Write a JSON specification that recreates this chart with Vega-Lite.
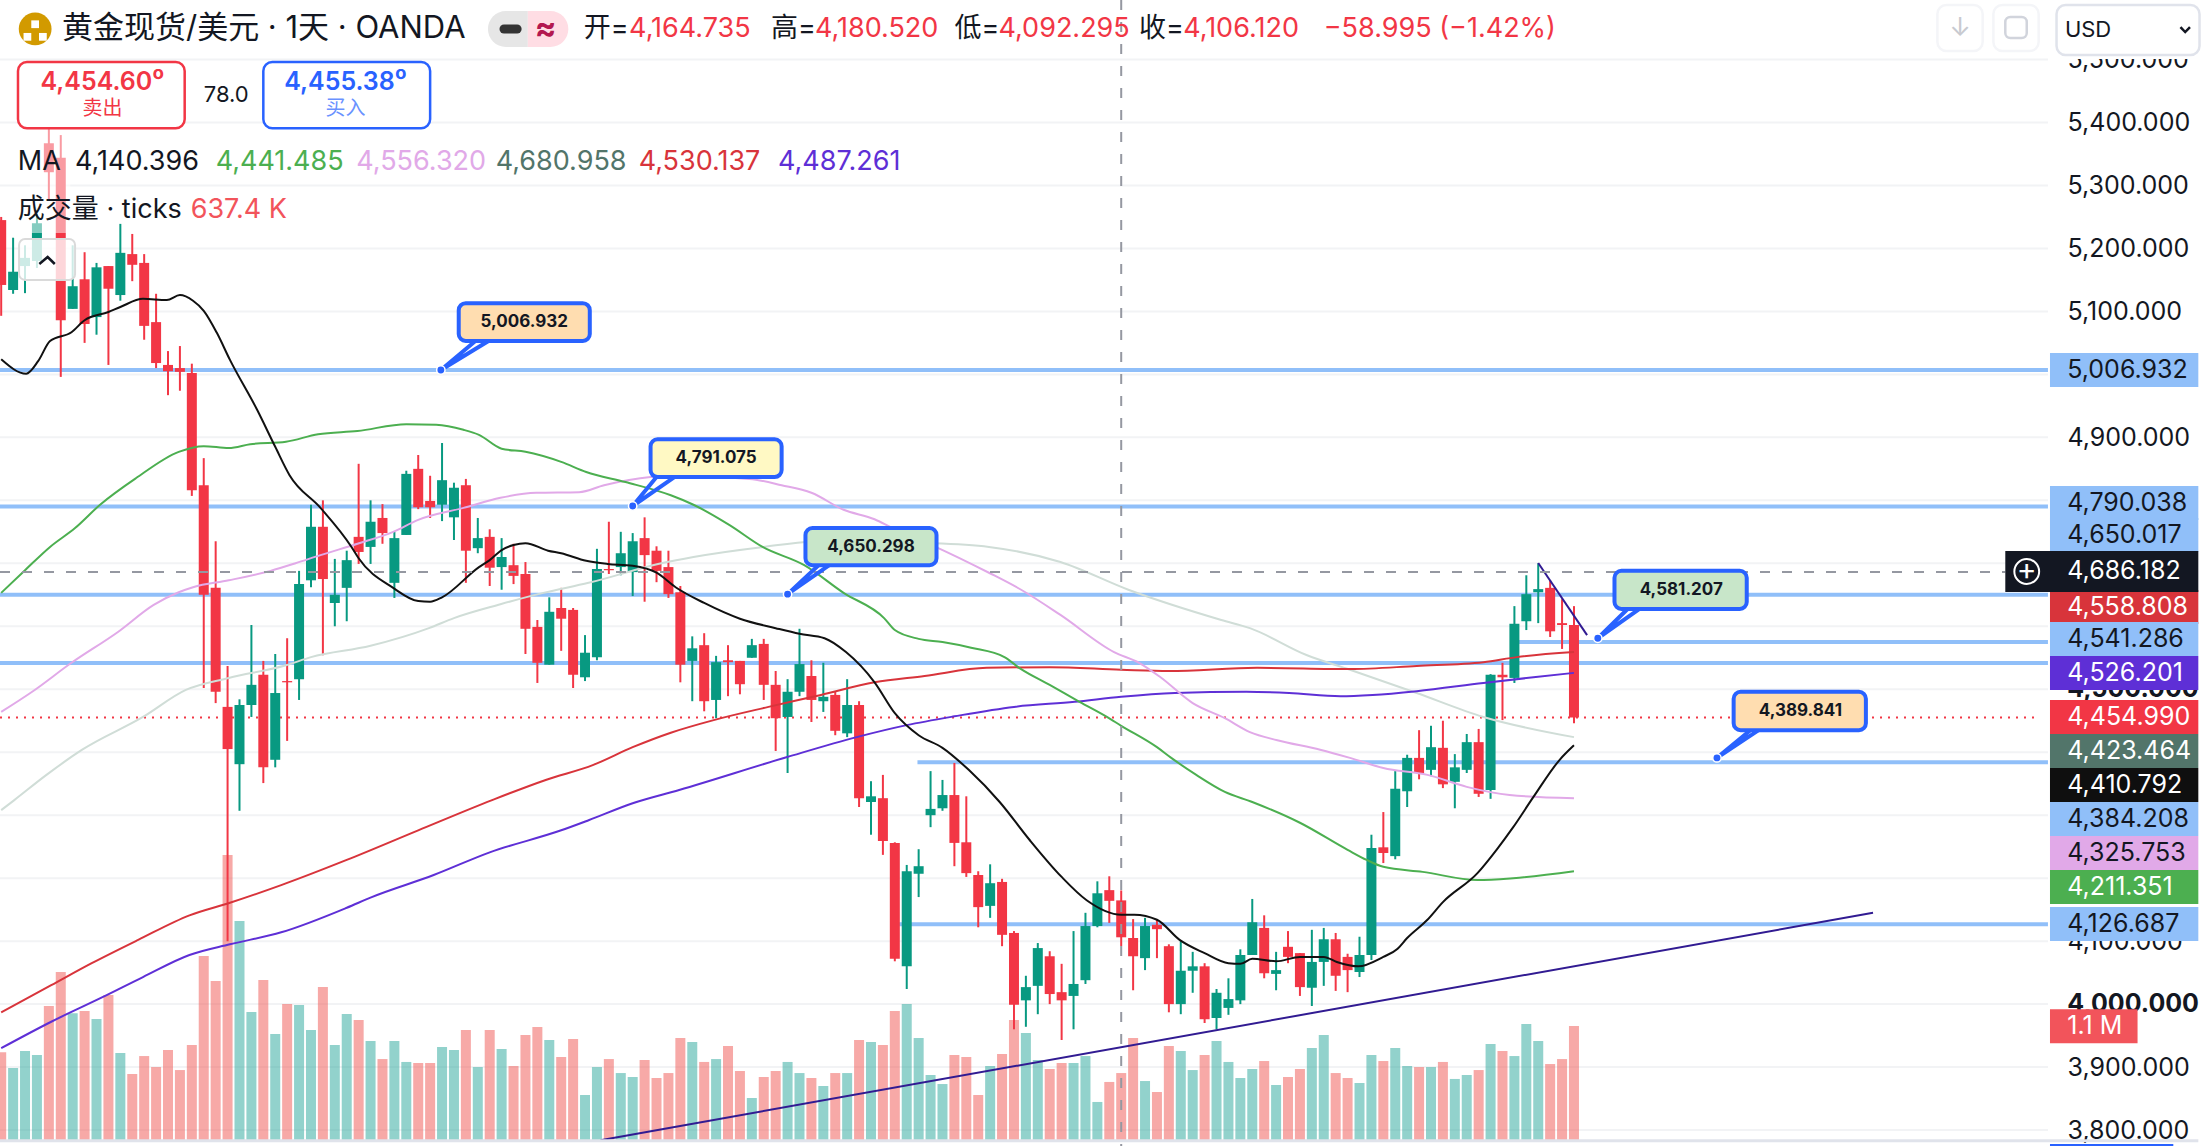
{
"$schema":"https://vega.github.io/schema/vega-lite/v6.json",
"description":"黄金现货/美元 1天 candlestick chart with moving averages and volume",
"width":2210,"height":1146,"padding":0,"autosize":{"type":"none"},"background":"#FFFFFF",
"datasets":{
"ticks":[{"price":3800,"a":-0.1,"b":171.78},{"price":3900,"a":-0.1,"b":171.78},{"price":4000,"a":-0.1,"b":171.78},{"price":4100,"a":-0.1,"b":171.78},{"price":4200,"a":-0.1,"b":171.78},{"price":4300,"a":-0.1,"b":171.78},{"price":4400,"a":-0.1,"b":171.78},{"price":4500,"a":-0.1,"b":171.78},{"price":4600,"a":-0.1,"b":171.78},{"price":4700,"a":-0.1,"b":171.78},{"price":4800,"a":-0.1,"b":171.78},{"price":4900,"a":-0.1,"b":171.78},{"price":5000,"a":-0.1,"b":171.78},{"price":5100,"a":-0.1,"b":171.78},{"price":5200,"a":-0.1,"b":171.78},{"price":5300,"a":-0.1,"b":171.78},{"price":5400,"a":-0.1,"b":171.78},{"price":5500,"a":-0.1,"b":171.78}],
"bars":[
{"i":0,"h":5250,"o":5245,"c":5142,"l":5093,"v":0.846},{"i":1,"h":5217,"o":5134,"c":5163,"l":5128,"v":0.695},{"i":2,"h":5205,"o":5172,"c":5185,"l":5129,"v":0.859},{"i":3,"h":5255,"o":5180,"c":5240,"l":5169,"v":0.82},{"i":4,"h":5390,"o":5367,"c":5321,"l":5277,"v":1.293},{"i":5,"h":5380,"o":5344,"c":5086,"l":4996,"v":1.621},{"i":6,"h":5205,"o":5104,"c":5140,"l":5104,"v":1.222},{"i":7,"h":5194,"o":5151,"c":5080,"l":5050,"v":1.245},{"i":8,"h":5177,"o":5091,"c":5170,"l":5063,"v":1.167},{"i":9,"h":5172,"o":5172,"c":5136,"l":5015,"v":1.399},
{"i":10,"h":5239,"o":5126,"c":5193,"l":5117,"v":0.839},{"i":11,"h":5223,"o":5191,"c":5174,"l":5148,"v":0.637},{"i":12,"h":5191,"o":5177,"c":5077,"l":5055,"v":0.81},{"i":13,"h":5128,"o":5083,"c":5018,"l":5010,"v":0.704},{"i":14,"h":5037,"o":5015,"c":5005,"l":4967,"v":0.868},{"i":15,"h":5045,"o":5010,"c":5004,"l":4974,"v":0.675},{"i":16,"h":5017,"o":5002,"c":4816,"l":4807,"v":0.917},{"i":17,"h":4867,"o":4824,"c":4650,"l":4502,"v":1.775},{"i":18,"h":4735,"o":4661,"c":4496,"l":4478,"v":1.534},{"i":19,"h":4537,"o":4472,"c":4405,"l":4100,"v":2.75},
{"i":20,"h":4484,"o":4381,"c":4475,"l":4307,"v":2.113},{"i":21,"h":4602,"o":4475,"c":4507,"l":4456,"v":1.235},{"i":22,"h":4545,"o":4523,"c":4376,"l":4351,"v":1.544},{"i":23,"h":4556,"o":4388,"c":4494,"l":4376,"v":1.023},{"i":24,"h":4581,"o":4513,"c":4511,"l":4418,"v":1.312},{"i":25,"h":4688,"o":4516,"c":4667,"l":4483,"v":1.302},{"i":26,"h":4793,"o":4673,"c":4758,"l":4662,"v":1.061},{"i":27,"h":4800,"o":4758,"c":4675,"l":4554,"v":1.476},{"i":28,"h":4707,"o":4637,"c":4650,"l":4600,"v":0.917},{"i":29,"h":4720,"o":4661,"c":4705,"l":4608,"v":1.216},
{"i":30,"h":4858,"o":4742,"c":4718,"l":4699,"v":1.158},{"i":31,"h":4800,"o":4726,"c":4766,"l":4699,"v":0.955},{"i":32,"h":4794,"o":4772,"c":4748,"l":4731,"v":0.781},{"i":33,"h":4750,"o":4669,"c":4740,"l":4645,"v":0.955},{"i":34,"h":4847,"o":4745,"c":4842,"l":4745,"v":0.753},{"i":35,"h":4872,"o":4850,"c":4789,"l":4786,"v":0.743},{"i":36,"h":4839,"o":4799,"c":4789,"l":4772,"v":0.743},{"i":37,"h":4891,"o":4793,"c":4832,"l":4767,"v":0.897},{"i":38,"h":4828,"o":4773,"c":4820,"l":4737,"v":0.868},{"i":39,"h":4834,"o":4824,"c":4720,"l":4669,"v":1.061},
{"i":40,"h":4772,"o":4724,"c":4740,"l":4716,"v":0.704},{"i":41,"h":4754,"o":4742,"c":4693,"l":4664,"v":1.061},{"i":42,"h":4740,"o":4694,"c":4710,"l":4658,"v":0.878},{"i":43,"h":4731,"o":4697,"c":4680,"l":4667,"v":0.714},{"i":44,"h":4702,"o":4683,"c":4596,"l":4556,"v":1.013},{"i":45,"h":4610,"o":4599,"c":4542,"l":4510,"v":1.09},{"i":46,"h":4646,"o":4539,"c":4623,"l":4539,"v":0.965},{"i":47,"h":4661,"o":4629,"c":4612,"l":4561,"v":0.801},{"i":48,"h":4629,"o":4626,"c":4523,"l":4502,"v":0.974},{"i":49,"h":4586,"o":4519,"c":4558,"l":4513,"v":0.434},
{"i":50,"h":4723,"o":4551,"c":4691,"l":4546,"v":0.704},{"i":51,"h":4766,"o":4691,"c":4689,"l":4683,"v":0.781},{"i":52,"h":4750,"o":4694,"c":4716,"l":4681,"v":0.646},{"i":53,"h":4748,"o":4686,"c":4735,"l":4648,"v":0.608},{"i":54,"h":4773,"o":4740,"c":4713,"l":4639,"v":0.772},{"i":55,"h":4727,"o":4720,"c":4688,"l":4670,"v":0.598},{"i":56,"h":4720,"o":4694,"c":4651,"l":4645,"v":0.646},{"i":57,"h":4664,"o":4654,"c":4539,"l":4511,"v":0.984},{"i":58,"h":4584,"o":4545,"c":4565,"l":4481,"v":0.946},{"i":59,"h":4589,"o":4570,"c":4481,"l":4465,"v":0.753},
{"i":60,"h":4553,"o":4483,"c":4543,"l":4454,"v":0.781},{"i":61,"h":4570,"o":4546,"c":4543,"l":4489,"v":0.907},{"i":62,"h":4545,"o":4545,"c":4508,"l":4492,"v":0.666},{"i":63,"h":4580,"o":4550,"c":4570,"l":4550,"v":0.405},{"i":64,"h":4580,"o":4572,"c":4507,"l":4483,"v":0.608},{"i":65,"h":4529,"o":4507,"c":4454,"l":4402,"v":0.666},{"i":66,"h":4516,"o":4456,"c":4496,"l":4367,"v":0.753},{"i":67,"h":4596,"o":4496,"c":4540,"l":4489,"v":0.646},{"i":68,"h":4546,"o":4521,"c":4483,"l":4448,"v":0.598},{"i":69,"h":4542,"o":4481,"c":4488,"l":4464,"v":0.521},
{"i":70,"h":4497,"o":4491,"c":4434,"l":4427,"v":0.646},{"i":71,"h":4516,"o":4430,"c":4475,"l":4424,"v":0.646},{"i":72,"h":4481,"o":4475,"c":4327,"l":4313,"v":0.965},{"i":73,"h":4354,"o":4321,"c":4330,"l":4269,"v":0.946},{"i":74,"h":4364,"o":4327,"c":4259,"l":4237,"v":0.917},{"i":75,"h":4257,"o":4256,"c":4072,"l":4068,"v":1.245},{"i":76,"h":4221,"o":4060,"c":4211,"l":4024,"v":1.312},{"i":77,"h":4246,"o":4207,"c":4219,"l":4170,"v":0.984},{"i":78,"h":4370,"o":4300,"c":4310,"l":4281,"v":0.627},{"i":79,"h":4356,"o":4311,"c":4332,"l":4307,"v":0.54},
{"i":80,"h":4383,"o":4332,"c":4256,"l":4219,"v":0.82},{"i":81,"h":4330,"o":4257,"c":4208,"l":4202,"v":0.801},{"i":82,"h":4211,"o":4205,"c":4154,"l":4122,"v":0.434},{"i":83,"h":4222,"o":4156,"c":4192,"l":4137,"v":0.714},{"i":84,"h":4199,"o":4194,"c":4110,"l":4092,"v":0.83},{"i":85,"h":4116,"o":4113,"c":3999,"l":3960,"v":1.158},{"i":86,"h":4045,"o":4006,"c":4027,"l":3964,"v":1.032},{"i":87,"h":4097,"o":4029,"c":4089,"l":3984,"v":0.772},{"i":88,"h":4084,"o":4076,"c":4016,"l":4000,"v":0.685},{"i":89,"h":4064,"o":4019,"c":4006,"l":3943,"v":0.743},
{"i":90,"h":4116,"o":4013,"c":4032,"l":3960,"v":0.743},{"i":91,"h":4145,"o":4038,"c":4124,"l":4032,"v":0.81},{"i":92,"h":4195,"o":4124,"c":4176,"l":4122,"v":0.367},{"i":93,"h":4203,"o":4181,"c":4164,"l":4129,"v":0.56},{"i":94,"h":4180.52,"o":4164.735,"c":4106.12,"l":4092.295,"v":0.646},{"i":95,"h":4135,"o":4105,"c":4076,"l":4022,"v":0.984},{"i":96,"h":4137,"o":4073,"c":4124,"l":4054,"v":0.569},{"i":97,"h":4135,"o":4126,"c":4119,"l":4073,"v":0.463},{"i":98,"h":4095,"o":4092,"c":4000,"l":3987,"v":0.907},{"i":99,"h":4100,"o":4000,"c":4053,"l":3984,"v":0.859},
{"i":100,"h":4083,"o":4053,"c":4060,"l":4018,"v":0.675},{"i":101,"h":4065,"o":4060,"c":3976,"l":3970,"v":0.82},{"i":102,"h":4024,"o":3978,"c":4018,"l":3960,"v":0.955},{"i":103,"h":4041,"o":3994,"c":4008,"l":3983,"v":0.753},{"i":104,"h":4087,"o":4006,"c":4078,"l":4000,"v":0.598},{"i":105,"h":4167,"o":4078,"c":4130,"l":4078,"v":0.685},{"i":106,"h":4141,"o":4121,"c":4049,"l":4041,"v":0.762},{"i":107,"h":4083,"o":4048,"c":4054,"l":4022,"v":0.531},{"i":108,"h":4116,"o":4091,"c":4075,"l":4065,"v":0.608},{"i":109,"h":4081,"o":4081,"c":4027,"l":4013,"v":0.685},
{"i":110,"h":4118,"o":4026,"c":4067,"l":3997,"v":0.888},{"i":111,"h":4121,"o":4067,"c":4103,"l":4029,"v":1.013},{"i":112,"h":4113,"o":4103,"c":4045,"l":4021,"v":0.646},{"i":113,"h":4080,"o":4075,"c":4054,"l":4019,"v":0.598},{"i":114,"h":4107,"o":4051,"c":4078,"l":4043,"v":0.55},{"i":115,"h":4269,"o":4078,"c":4248,"l":4070,"v":0.82},{"i":116,"h":4305,"o":4249,"c":4240,"l":4224,"v":0.762},{"i":117,"h":4370,"o":4235,"c":4342,"l":4230,"v":0.888},{"i":118,"h":4396,"o":4338,"c":4391,"l":4313,"v":0.714},{"i":119,"h":4435,"o":4391,"c":4367,"l":4357,"v":0.704},
{"i":120,"h":4442,"o":4372,"c":4408,"l":4362,"v":0.704},{"i":121,"h":4450,"o":4407,"c":4349,"l":4343,"v":0.753},{"i":122,"h":4397,"o":4353,"c":4376,"l":4311,"v":0.589},{"i":123,"h":4429,"o":4372,"c":4416,"l":4367,"v":0.627},{"i":124,"h":4437,"o":4416,"c":4334,"l":4329,"v":0.675},{"i":125,"h":4524,"o":4340,"c":4523,"l":4326,"v":0.926},{"i":126,"h":4542,"o":4523,"c":4519,"l":4451,"v":0.859},{"i":127,"h":4632,"o":4518,"c":4604,"l":4510,"v":0.81},{"i":128,"h":4681,"o":4608,"c":4651,"l":4594,"v":1.119},{"i":129,"h":4700,"o":4654,"c":4659,"l":4605,"v":0.955},
{"i":130,"h":4673,"o":4661,"c":4592,"l":4583,"v":0.733},{"i":131,"h":4643,"o":4605,"c":4602,"l":4564,"v":0.781},{"i":132,"h":4632,"o":4602,"c":4454.99,"l":4446,"v":1.1}
],
"ma":[
{"s":"ma4","i":0,"p":4308},{"s":"ma4","i":1.1,"p":4324},{"s":"ma4","i":3.8,"p":4364},{"s":"ma4","i":6.8,"p":4404},{"s":"ma4","i":11.9,"p":4456},{"s":"ma4","i":15.5,"p":4499},{"s":"ma4","i":19.1,"p":4518},{"s":"ma4","i":23.9,"p":4538},{"s":"ma4","i":26,"p":4551},{"s":"ma4","i":31,"p":4569},{"s":"ma4","i":35.9,"p":4597},{"s":"ma4","i":38,"p":4613},{"s":"ma4","i":41.9,"p":4635},{"s":"ma4","i":45.5,"p":4653},{"s":"ma4","i":49.3,"p":4669},{"s":"ma4","i":55.4,"p":4700},{"s":"ma4","i":58.1,"p":4710},{"s":"ma4","i":64,"p":4726},{"s":"ma4","i":68.8,"p":4735},{"s":"ma4","i":77.9,"p":4732},{"s":"ma4","i":82.9,"p":4726},{"s":"ma4","i":88.9,"p":4702},{"s":"ma4","i":94.6,"p":4658},{"s":"ma4","i":102.4,"p":4610},{"s":"ma4","i":104.8,"p":4597},{"s":"ma4","i":109.6,"p":4554},{"s":"ma4","i":113.2,"p":4531},{"s":"ma4","i":118.8,"p":4494},{"s":"ma4","i":124.4,"p":4456},{"s":"ma4","i":132,"p":4424},
{"s":"ma6","i":0,"p":3930},{"s":"ma6","i":4.2,"p":3972},{"s":"ma6","i":8.5,"p":4011},{"s":"ma6","i":11.9,"p":4043},{"s":"ma6","i":15.8,"p":4078},{"s":"ma6","i":19.2,"p":4095},{"s":"ma6","i":23.5,"p":4114},{"s":"ma6","i":29,"p":4153},{"s":"ma6","i":31.1,"p":4170},{"s":"ma6","i":36.3,"p":4205},{"s":"ma6","i":41,"p":4241},{"s":"ma6","i":47,"p":4276},{"s":"ma6","i":49.3,"p":4292},{"s":"ma6","i":53,"p":4319},{"s":"ma6","i":56.9,"p":4340},{"s":"ma6","i":65.9,"p":4392},{"s":"ma6","i":71.8,"p":4424},{"s":"ma6","i":76,"p":4443},{"s":"ma6","i":80,"p":4457},{"s":"ma6","i":85,"p":4472},{"s":"ma6","i":90.1,"p":4480},{"s":"ma6","i":94,"p":4488},{"s":"ma6","i":98.5,"p":4494},{"s":"ma6","i":104.5,"p":4496},{"s":"ma6","i":108.1,"p":4494},{"s":"ma6","i":112.4,"p":4489},{"s":"ma6","i":115.1,"p":4491},{"s":"ma6","i":118.8,"p":4497},{"s":"ma6","i":124.4,"p":4510},{"s":"ma6","i":128.6,"p":4519},{"s":"ma6","i":132,"p":4526},
{"s":"ma5","i":0,"p":3987},{"s":"ma5","i":4.2,"p":4030},{"s":"ma5","i":7.6,"p":4065},{"s":"ma5","i":11.5,"p":4102},{"s":"ma5","i":15.8,"p":4141},{"s":"ma5","i":19.2,"p":4161},{"s":"ma5","i":23.5,"p":4189},{"s":"ma5","i":29,"p":4229},{"s":"ma5","i":35,"p":4276},{"s":"ma5","i":41.2,"p":4324},{"s":"ma5","i":45.7,"p":4356},{"s":"ma5","i":49.7,"p":4380},{"s":"ma5","i":53,"p":4408},{"s":"ma5","i":56.2,"p":4431},{"s":"ma5","i":59.8,"p":4451},{"s":"ma5","i":64.4,"p":4472},{"s":"ma5","i":68.8,"p":4491},{"s":"ma5","i":73.3,"p":4511},{"s":"ma5","i":77.5,"p":4521},{"s":"ma5","i":82.7,"p":4534},{"s":"ma5","i":88,"p":4535},{"s":"ma5","i":94,"p":4531},{"s":"ma5","i":98,"p":4529},{"s":"ma5","i":105.4,"p":4534},{"s":"ma5","i":113.2,"p":4532},{"s":"ma5","i":118.8,"p":4537},{"s":"ma5","i":124.4,"p":4543},{"s":"ma5","i":127.2,"p":4551},{"s":"ma5","i":132,"p":4559},
{"s":"ma3","i":0,"p":4464},{"s":"ma3","i":2.6,"p":4496},{"s":"ma3","i":5.9,"p":4542},{"s":"ma3","i":9.8,"p":4591},{"s":"ma3","i":12.8,"p":4634},{"s":"ma3","i":14.9,"p":4654},{"s":"ma3","i":16.1,"p":4662},{"s":"ma3","i":19.1,"p":4673},{"s":"ma3","i":22.6,"p":4688},{"s":"ma3","i":24.7,"p":4700},{"s":"ma3","i":26.8,"p":4713},{"s":"ma3","i":29.9,"p":4731},{"s":"ma3","i":32.9,"p":4750},{"s":"ma3","i":35,"p":4769},{"s":"ma3","i":38.8,"p":4788},{"s":"ma3","i":41.9,"p":4804},{"s":"ma3","i":44.9,"p":4812},{"s":"ma3","i":48.5,"p":4813},{"s":"ma3","i":50.6,"p":4824},{"s":"ma3","i":54.5,"p":4837},{"s":"ma3","i":56.9,"p":4839},{"s":"ma3","i":62.8,"p":4834},{"s":"ma3","i":65.5,"p":4824},{"s":"ma3","i":68,"p":4812},{"s":"ma3","i":70.7,"p":4785},{"s":"ma3","i":73.3,"p":4770},{"s":"ma3","i":74.8,"p":4756},{"s":"ma3","i":78.1,"p":4729},{"s":"ma3","i":82.9,"p":4685},{"s":"ma3","i":85.6,"p":4658},{"s":"ma3","i":88.9,"p":4618},{"s":"ma3","i":93.4,"p":4559},{"s":"ma3","i":95.5,"p":4542},{"s":"ma3","i":97.3,"p":4519},{"s":"ma3","i":100,"p":4478},{"s":"ma3","i":102.7,"p":4454},{"s":"ma3","i":104.8,"p":4432},{"s":"ma3","i":107.1,"p":4419},{"s":"ma3","i":110.7,"p":4404},{"s":"ma3","i":113.2,"p":4391},{"s":"ma3","i":116,"p":4375},{"s":"ma3","i":119.7,"p":4364},{"s":"ma3","i":123,"p":4345},{"s":"ma3","i":126.6,"p":4332},{"s":"ma3","i":132,"p":4327},
{"s":"ma2","i":0,"p":4653},{"s":"ma2","i":2,"p":4689},{"s":"ma2","i":4.1,"p":4726},{"s":"ma2","i":6.2,"p":4756},{"s":"ma2","i":8.3,"p":4793},{"s":"ma2","i":11.3,"p":4835},{"s":"ma2","i":14.9,"p":4877},{"s":"ma2","i":17,"p":4886},{"s":"ma2","i":19.1,"p":4883},{"s":"ma2","i":20.9,"p":4889},{"s":"ma2","i":23.9,"p":4893},{"s":"ma2","i":26.6,"p":4905},{"s":"ma2","i":29.9,"p":4910},{"s":"ma2","i":34,"p":4921},{"s":"ma2","i":36.5,"p":4920},{"s":"ma2","i":38.8,"p":4912},{"s":"ma2","i":40.1,"p":4904},{"s":"ma2","i":42,"p":4882},{"s":"ma2","i":44,"p":4877},{"s":"ma2","i":47,"p":4861},{"s":"ma2","i":49.1,"p":4845},{"s":"ma2","i":52.4,"p":4829},{"s":"ma2","i":56.2,"p":4808},{"s":"ma2","i":58.1,"p":4793},{"s":"ma2","i":61.1,"p":4761},{"s":"ma2","i":63.9,"p":4726},{"s":"ma2","i":67.4,"p":4697},{"s":"ma2","i":70.7,"p":4653},{"s":"ma2","i":74.1,"p":4613},{"s":"ma2","i":75,"p":4594},{"s":"ma2","i":77,"p":4580},{"s":"ma2","i":79,"p":4575},{"s":"ma2","i":81.4,"p":4566},{"s":"ma2","i":84.2,"p":4551},{"s":"ma2","i":85.6,"p":4532},{"s":"ma2","i":88,"p":4507},{"s":"ma2","i":90.5,"p":4480},{"s":"ma2","i":92.8,"p":4456},{"s":"ma2","i":94,"p":4442},{"s":"ma2","i":97,"p":4408},{"s":"ma2","i":98.2,"p":4391},{"s":"ma2","i":100.3,"p":4364},{"s":"ma2","i":102.7,"p":4337},{"s":"ma2","i":105,"p":4321},{"s":"ma2","i":109,"p":4288},{"s":"ma2","i":113,"p":4245},{"s":"ma2","i":114.6,"p":4229},{"s":"ma2","i":116,"p":4218},{"s":"ma2","i":119.3,"p":4210},{"s":"ma2","i":123.9,"p":4197},{"s":"ma2","i":126.9,"p":4200},{"s":"ma2","i":132,"p":4211},
{"s":"ma1","i":0,"p":5024},{"s":"ma1","i":2.1,"p":5001},{"s":"ma1","i":3.1,"p":5021},{"s":"ma1","i":4.1,"p":5053},{"s":"ma1","i":5.9,"p":5067},{"s":"ma1","i":7,"p":5086},{"s":"ma1","i":9,"p":5099},{"s":"ma1","i":10,"p":5107},{"s":"ma1","i":11.9,"p":5120},{"s":"ma1","i":13.9,"p":5118},{"s":"ma1","i":15,"p":5126},{"s":"ma1","i":16.1,"p":5117},{"s":"ma1","i":17,"p":5101},{"s":"ma1","i":18.1,"p":5066},{"s":"ma1","i":19.2,"p":5023},{"s":"ma1","i":21.5,"p":4943},{"s":"ma1","i":23,"p":4885},{"s":"ma1","i":24.2,"p":4840},{"s":"ma1","i":26.8,"p":4788},{"s":"ma1","i":29.4,"p":4726},{"s":"ma1","i":30,"p":4708},{"s":"ma1","i":32.9,"p":4661},{"s":"ma1","i":35,"p":4640},{"s":"ma1","i":36,"p":4639},{"s":"ma1","i":37,"p":4646},{"s":"ma1","i":40.1,"p":4694},{"s":"ma1","i":41,"p":4705},{"s":"ma1","i":42,"p":4721},{"s":"ma1","i":43,"p":4729},{"s":"ma1","i":44,"p":4732},{"s":"ma1","i":45.9,"p":4720},{"s":"ma1","i":47,"p":4716},{"s":"ma1","i":49.1,"p":4704},{"s":"ma1","i":50.9,"p":4699},{"s":"ma1","i":53,"p":4696},{"s":"ma1","i":55,"p":4685},{"s":"ma1","i":56.6,"p":4662},{"s":"ma1","i":59,"p":4637},{"s":"ma1","i":62,"p":4612},{"s":"ma1","i":65,"p":4597},{"s":"ma1","i":67,"p":4588},{"s":"ma1","i":69.1,"p":4581},{"s":"ma1","i":70.9,"p":4559},{"s":"ma1","i":73.3,"p":4511},{"s":"ma1","i":75,"p":4462},{"s":"ma1","i":77,"p":4427},{"s":"ma1","i":79,"p":4407},{"s":"ma1","i":81.2,"p":4372},{"s":"ma1","i":83.8,"p":4321},{"s":"ma1","i":86.3,"p":4261},{"s":"ma1","i":89,"p":4202},{"s":"ma1","i":91.1,"p":4165},{"s":"ma1","i":94,"p":4142},{"s":"ma1","i":95.1,"p":4142},{"s":"ma1","i":97,"p":4134},{"s":"ma1","i":98.9,"p":4102},{"s":"ma1","i":101,"p":4081},{"s":"ma1","i":103,"p":4065},{"s":"ma1","i":104,"p":4064},{"s":"ma1","i":105,"p":4072},{"s":"ma1","i":107,"p":4068},{"s":"ma1","i":109,"p":4075},{"s":"ma1","i":111,"p":4075},{"s":"ma1","i":112.1,"p":4067},{"s":"ma1","i":113.9,"p":4060},{"s":"ma1","i":116,"p":4075},{"s":"ma1","i":117.2,"p":4088},{"s":"ma1","i":118,"p":4105},{"s":"ma1","i":119.7,"p":4134},{"s":"ma1","i":121,"p":4162},{"s":"ma1","i":123.9,"p":4208},{"s":"ma1","i":125.5,"p":4245},{"s":"ma1","i":126.9,"p":4281},{"s":"ma1","i":128.6,"p":4329},{"s":"ma1","i":130.8,"p":4388},{"s":"ma1","i":132,"p":4411}
],
"levels":[{"p":5006.932,"a":-0.1,"b":171.78},{"p":4790.038,"a":-0.1,"b":171.78},{"p":4650.017,"a":-0.1,"b":171.78},{"p":4575,"a":127.3,"b":171.78},{"p":4541.7,"a":-0.1,"b":171.78},{"p":4384.208,"a":76.9,"b":171.78},{"p":4126.687,"a":75,"b":171.78}],
"trend":[{"k":"a","n":1,"i":50.3,"p":3784},{"k":"a","n":2,"i":157.1,"p":4145},{"k":"b","n":1,"i":129,"p":4700.5},{"k":"b","n":2,"i":133.1,"p":4586}],
"callouts":[
{"t":"5,006.932","k":"orange","x1":38.4,"x2":49.4,"y1":5113,"y2":5053,"cx":43.9,"cy":5083},
{"t":"4,791.075","k":"yellow","x1":54.5,"x2":65.5,"y1":4897,"y2":4837,"cx":60,"cy":4867},
{"t":"4,650.298","k":"green","x1":67.5,"x2":78.5,"y1":4756,"y2":4697,"cx":73,"cy":4726.5},
{"t":"4,581.207","k":"green","x1":135.4,"x2":146.5,"y1":4688,"y2":4627.5,"cx":141,"cy":4658},
{"t":"4,389.841","k":"orange","x1":145.4,"x2":156.5,"y1":4496,"y2":4435,"cx":151,"cy":4465}
],
"pointers":[
{"k":"a","n":1,"i":39.8,"p":5053},{"k":"a","n":2,"i":36.9,"p":5007},{"k":"a","n":3,"i":40.9,"p":5053},
{"k":"b","n":1,"i":55,"p":4837},{"k":"b","n":2,"i":53,"p":4791},{"k":"b","n":3,"i":56.5,"p":4837},
{"k":"c","n":1,"i":68.6,"p":4697},{"k":"c","n":2,"i":66,"p":4651},{"k":"c","n":3,"i":69.5,"p":4697},
{"k":"d","n":1,"i":136.5,"p":4627.5},{"k":"d","n":2,"i":134,"p":4581},{"k":"d","n":3,"i":137.5,"p":4627.5},
{"k":"e","n":1,"i":146.8,"p":4435},{"k":"e","n":2,"i":144,"p":4391},{"k":"e","n":3,"i":147.5,"p":4435}
],
"tags":[
{"t":"5,006.932","at":5007,"s":"level","a":171.95,"to":184.4,"lx":173.4},
{"t":"4,790.038","at":4795.7,"s":"level","a":171.95,"to":184.4,"lx":173.4},
{"t":"4,650.017","at":4744.9,"s":"level","a":171.95,"to":184.4,"lx":173.4},
{"t":"4,558.808","at":4630.6,"s":"ma5","a":171.95,"to":184.4,"lx":173.4},
{"t":"4,541.286","at":4579.8,"s":"level","a":171.95,"to":184.4,"lx":173.4},
{"t":"4,526.201","at":4525.8,"s":"ma6","a":171.95,"to":184.4,"lx":173.4},
{"t":"4,454.990","at":4456,"s":"last","a":171.95,"to":184.4,"lx":173.4},
{"t":"4,423.464","at":4401.9,"s":"ma4","a":171.95,"to":184.4,"lx":173.4},
{"t":"4,410.792","at":4347.9,"s":"ma1","a":171.95,"to":184.4,"lx":173.4},
{"t":"4,384.208","at":4293.9,"s":"level","a":171.95,"to":184.4,"lx":173.4},
{"t":"4,325.753","at":4239.9,"s":"ma3","a":171.95,"to":184.4,"lx":173.4},
{"t":"4,211.351","at":4185.9,"s":"ma2","a":171.95,"to":184.4,"lx":173.4},
{"t":"4,126.687","at":4127.2,"s":"level","a":171.95,"to":184.4,"lx":173.4},
{"t":"1.1 M","at":3965,"s":"vol","a":171.95,"to":179.3,"lx":173.4}
],
"cursor":[{"t":"4,686.182","at":4687,"a":168.2,"to":184.4,"lx":173.4,"cx":170,"mark":"+"}],
"chrome":[
{"s":"sell","x1":1.41,"x2":15.4,"y1":5496,"y2":5391},
{"s":"buy","x1":22,"x2":36,"y1":5496,"y2":5391},
{"s":"faint","x1":162.5,"x2":166.3,"y1":5586.6,"y2":5513.5},
{"s":"faint","x1":167.2,"x2":171,"y1":5586.6,"y2":5513.5},
{"s":"select","x1":172.5,"x2":184.5,"y1":5586.6,"y2":5507.2}
],
"logo":[{"i":2.2,"p":5536},{"i":3.5,"p":5536},{"i":2.85,"p":5556}],
"chevrons":[
{"k":"usd","n":1,"i":182.9,"p":5551.6},{"k":"usd","n":2,"i":183.3,"p":5543.7},{"k":"usd","n":3,"i":183.7,"p":5551.6},
{"k":"fold","n":1,"i":3.2,"p":5175.3},{"k":"fold","n":2,"i":3.9,"p":5186.4},{"k":"fold","n":3,"i":4.5,"p":5175.3}
],
"labels":[
{"t":"开=","i":48.9,"p":5548.5,"s":"ink"},{"t":"4,164.735","i":52.7,"p":5548.5,"s":"red"},
{"t":"高=","i":64.6,"p":5548.5,"s":"ink"},{"t":"4,180.520","i":68.3,"p":5548.5,"s":"red"},
{"t":"低=","i":80,"p":5548.5,"s":"ink"},{"t":"4,092.295","i":83.7,"p":5548.5,"s":"red"},
{"t":"收=","i":95.5,"p":5548.5,"s":"ink"},{"t":"4,106.120","i":99.2,"p":5548.5,"s":"red"},
{"t":"−58.995 (−1.42%)","i":111,"p":5548.5,"s":"red"},
{"t":"MA","i":1.4,"p":5337.2,"s":"ink"},{"t":"4,140.396","i":6.2,"p":5337.2,"s":"ink"},
{"t":"4,441.485","i":18,"p":5337.2,"s":"ma2"},{"t":"4,556.320","i":29.8,"p":5337.2,"s":"ma3"},
{"t":"4,680.958","i":41.5,"p":5337.2,"s":"ma4"},{"t":"4,530.137","i":53.5,"p":5337.2,"s":"ma5"},
{"t":"4,487.261","i":65.2,"p":5337.2,"s":"ma6"},
{"t":"成交量 · ticks","i":1.4,"p":5261,"s":"ink"},{"t":"637.4 K","i":15.9,"p":5261,"s":"vol"}
],
"small":[{"t":"78.0","i":17,"p":5443.6},{"t":"USD","i":173.2,"p":5546.9}],
"quotes":[{"t":"4,454.60⁰","i":8.5,"p":5464.3,"s":"sell"},{"t":"4,455.38⁰","i":28.9,"p":5464.3,"s":"buy"}],
"captions":[{"t":"卖出","i":8.5,"p":5421.4,"s":"sell"},{"t":"买入","i":28.9,"p":5421.4,"s":"buy"}]
},
"layer":[
{
"data":{"name":"ticks"},
"mark":{"type":"rule","color":"#F2F3F5","strokeWidth":2},
"encoding":{
"x":{"field":"a","type":"quantitative","scale":{"domain":[-0.1,185.38],"nice":false,"zero":false,"padding":0},"axis":null},
"x2":{"field":"b"},
"y":{"field":"price","type":"quantitative","scale":{"domain":[3774.7,5594.5],"nice":false,"zero":false},"axis":{"orient":"right","offset":-143,"values":[3800,3900,4100,4900,5100,5200,5300,5400,5500],"title":null,"grid":false,"domain":false,"ticks":false,"labelPadding":0,"format":",.3f","labelFont":"Inter","labelFontSize":25,"labelColor":"#131722","labelOverlap":false,"labelBound":false,"labelFlush":false}}
}
},
{
"data":{"name":"bars"},
"mark":{"type":"bar","size":10,"opacity":0.5,"orient":"vertical"},
"encoding":{
"x":{"field":"i","type":"quantitative","scale":{"domain":[-0.1,185.38],"nice":false,"zero":false,"padding":0},"axis":{"values":[4,26,47,68,90,113,134,156,185.2],"title":null,"grid":true,"gridColor":"#F2F3F5","gridWidth":2,"domain":false,"ticks":false,"labels":false}},
"y":{"field":"v","type":"quantitative","stack":null,"scale":{"domain":[-0.0579,11],"nice":false,"zero":false},"axis":null},
"color":{"condition":{"test":"datum.c<datum.o","value":"#EF5350"},"value":"#26A69A"}
}
},
{
"layer":[
{
"data":{"name":"levels"},
"mark":{"type":"rule","color":"#90BFF9","strokeWidth":4},
"encoding":{
"x":{"field":"a","type":"quantitative","scale":{"domain":[-0.1,185.38],"nice":false,"zero":false,"padding":0},"axis":null},
"x2":{"field":"b"},
"y":{"field":"p","type":"quantitative","scale":{"domain":[3774.7,5594.5],"nice":false,"zero":false},"axis":null}
}
},
{
"data":{"values":[{"a":-0.1,"b":171.1,"p":4454.99}]},
"mark":{"type":"rule","color":"#F23645","strokeWidth":2,"strokeDash":[2,6]},
"encoding":{"x":{"field":"a","type":"quantitative","axis":null},"x2":{"field":"b"},"y":{"field":"p","type":"quantitative","axis":null}}
},
{
"data":{"name":"bars"},
"mark":{"type":"rule","strokeWidth":2},
"encoding":{
"x":{"field":"i","type":"quantitative","axis":null},
"y":{"field":"h","type":"quantitative","axis":null},"y2":{"field":"l"},
"color":{"condition":{"test":"datum.c<datum.o","value":"#F23645"},"value":"#089981"}
}
},
{
"data":{"name":"bars"},
"mark":{"type":"rule","strokeWidth":10},
"encoding":{
"x":{"field":"i","type":"quantitative","axis":null},
"y":{"field":"o","type":"quantitative","axis":null},"y2":{"field":"c"},
"color":{"condition":{"test":"datum.c<datum.o","value":"#F23645"},"value":"#089981"}
}
},
{
"data":{"name":"ma"},
"mark":{"type":"line","strokeWidth":2,"interpolate":"monotone"},
"encoding":{
"x":{"field":"i","type":"quantitative","axis":null},
"y":{"field":"p","type":"quantitative","axis":null},
"color":{"field":"s","type":"nominal","legend":null,"scale":{"domain":["ma1","ma2","ma3","ma4","ma5","ma6"],"range":["#111111","#4CAF50","#E1A9E8","#D0DDD7","#D8343B","#5E2FD6"]}}
}
},
{
"data":{"name":"trend"},
"mark":{"type":"line","color":"#311B92","strokeWidth":2},
"encoding":{
"x":{"field":"i","type":"quantitative","axis":null},
"y":{"field":"p","type":"quantitative","axis":null},
"detail":{"field":"k"},"order":{"field":"n"}
}
},
{
"data":{"values":[{"a":-0.1,"b":168.2,"p":4686.182}]},
"mark":{"type":"rule","color":"#9598A1","strokeWidth":2,"strokeDash":[10,12]},
"encoding":{"x":{"field":"a","type":"quantitative","axis":null},"x2":{"field":"b"},"y":{"field":"p","type":"quantitative","axis":null}}
},
{
"data":{"values":[{"i":94,"p":5594.5,"q":3774.7}]},
"mark":{"type":"rule","color":"#9598A1","strokeWidth":2,"strokeDash":[10,12]},
"encoding":{"x":{"field":"i","type":"quantitative","axis":null},"y":{"field":"p","type":"quantitative","axis":null},"y2":{"field":"q"}}
},
{
"data":{"name":"pointers"},
"mark":{"type":"line","color":"#2962FF","strokeWidth":4},
"encoding":{
"x":{"field":"i","type":"quantitative","axis":null},
"y":{"field":"p","type":"quantitative","axis":null},
"detail":{"field":"k"},"order":{"field":"n"}
}
},
{
"data":{"name":"pointers"},
"transform":[{"filter":"datum.n==2"}],
"mark":{"type":"point","filled":true,"size":70,"color":"#2962FF","stroke":"#FFFFFF","strokeWidth":1.5,"opacity":1},
"encoding":{
"x":{"field":"i","type":"quantitative","axis":null},
"y":{"field":"p","type":"quantitative","axis":null}
}
},
{
"data":{"name":"callouts"},
"mark":{"type":"rect","stroke":"#2962FF","strokeWidth":4,"cornerRadius":7},
"encoding":{
"x":{"field":"x1","type":"quantitative","axis":null},"x2":{"field":"x2"},
"y":{"field":"y1","type":"quantitative","axis":null},"y2":{"field":"y2"},
"fill":{"field":"k","type":"nominal","legend":null,"scale":{"domain":["orange","yellow","green"],"range":["#FFDDB0","#FFF9C4","#C8E6C9"]}}
}
},
{
"data":{"name":"callouts"},
"mark":{"type":"text","font":"Inter","fontSize":17,"fontWeight":"bold","color":"#131722","align":"center","baseline":"middle"},
"encoding":{
"x":{"field":"cx","type":"quantitative","axis":null},
"y":{"field":"cy","type":"quantitative","axis":null},
"text":{"field":"t","type":"nominal"}
}
},
{
"data":{"values":[{"a":171.95,"b":185.38,"p":5594.5,"q":5500.8}]},
"mark":{"type":"rect","color":"#FFFFFF"},
"encoding":{"x":{"field":"a","type":"quantitative","axis":null},"x2":{"field":"b"},"y":{"field":"p","type":"quantitative","axis":null},"y2":{"field":"q"}}
},
{
"data":{"values":[{"i":173.4,"p":4000,"t":"4,000.000"},{"i":173.4,"p":4500,"t":"4,500.000"}]},
"mark":{"type":"text","font":"Inter","fontSize":25,"fontWeight":"bold","color":"#131722","align":"left","baseline":"middle"},
"encoding":{"x":{"field":"i","type":"quantitative","axis":null},"y":{"field":"p","type":"quantitative","axis":null},"text":{"field":"t","type":"nominal"}}
},
{
"data":{"values":[{"a":-0.1,"b":184.4,"p":3783}]},
"mark":{"type":"rule","color":"#E0E3EB","strokeWidth":3},
"encoding":{"x":{"field":"a","type":"quantitative","axis":null},"x2":{"field":"b"},"y":{"field":"p","type":"quantitative","axis":null}}
},
{
"data":{"values":[{"a":171.95,"b":182.3,"p":3778,"q":3774.7}]},
"mark":{"type":"rect","color":"#2962FF"},
"encoding":{"x":{"field":"a","type":"quantitative","axis":null},"x2":{"field":"b"},"y":{"field":"p","type":"quantitative","axis":null},"y2":{"field":"q"}}
},
{
"data":{"name":"tags"},
"mark":{"type":"rule","strokeWidth":34},
"encoding":{
"x":{"field":"a","type":"quantitative","axis":null},"x2":{"field":"to"},
"y":{"field":"at","type":"quantitative","axis":null},
"color":{"field":"s","type":"nominal","legend":null,"scale":{"domain":["level","ma1","ma2","ma3","ma4","ma5","ma6","last","vol"],"range":["#90BFF9","#0F0F0F","#4CAF50","#E1A9E8","#52756A","#D8343B","#5E2FD6","#F23645","#F2545B"]}}
}
},
{
"data":{"name":"cursor"},
"mark":{"type":"rule","color":"#131722","strokeWidth":41},
"encoding":{"x":{"field":"a","type":"quantitative","axis":null},"x2":{"field":"to"},"y":{"field":"at","type":"quantitative","axis":null}}
},
{
"data":{"name":"cursor"},
"mark":{"type":"point","size":615,"stroke":"#FFFFFF","strokeWidth":2,"filled":false,"opacity":1,"shape":"circle"},
"encoding":{"x":{"field":"cx","type":"quantitative","axis":null},"y":{"field":"at","type":"quantitative","axis":null}}
},
{
"data":{"name":"cursor"},
"mark":{"type":"text","font":"Inter","fontSize":30,"color":"#FFFFFF","align":"center","baseline":"middle"},
"encoding":{"x":{"field":"cx","type":"quantitative","axis":null},"y":{"field":"at","type":"quantitative","axis":null},"text":{"field":"mark","type":"nominal"}}
},
{
"data":{"name":"tags"},
"mark":{"type":"text","font":"Inter","fontSize":25,"align":"left","baseline":"middle"},
"encoding":{
"x":{"field":"lx","type":"quantitative","axis":null},
"y":{"field":"at","type":"quantitative","axis":null},
"text":{"field":"t","type":"nominal"},
"color":{"condition":{"test":"datum.s==='level'||datum.s==='ma3'","value":"#131722"},"value":"#FFFFFF"}
}
},
{
"data":{"name":"cursor"},
"mark":{"type":"text","font":"Inter","fontSize":25,"align":"left","baseline":"middle","color":"#FFFFFF"},
"encoding":{"x":{"field":"lx","type":"quantitative","axis":null},"y":{"field":"at","type":"quantitative","axis":null},"text":{"field":"t","type":"nominal"}}
},
{
"data":{"values":[{"a":2.4,"b":5.8,"p":5389.6,"q":5224.5}]},
"mark":{"type":"rect","color":"#FFFFFF","opacity":0.5},
"encoding":{"x":{"field":"a","type":"quantitative","axis":null},"x2":{"field":"b"},"y":{"field":"p","type":"quantitative","axis":null},"y2":{"field":"q"}}
},
{
"data":{"values":[{"a":1.5,"b":6.2,"p":5215,"q":5150}]},
"mark":{"type":"rect","fill":"#FFFFFF","fillOpacity":0.8,"stroke":"#DADADA","strokeWidth":2,"cornerRadius":6},
"encoding":{"x":{"field":"a","type":"quantitative","axis":null},"x2":{"field":"b"},"y":{"field":"p","type":"quantitative","axis":null},"y2":{"field":"q"}}
},
{
"data":{"name":"chrome"},
"mark":{"type":"rect","fill":"#FFFFFF","strokeWidth":2.5,"cornerRadius":9},
"encoding":{
"x":{"field":"x1","type":"quantitative","axis":null},"x2":{"field":"x2"},
"y":{"field":"y1","type":"quantitative","axis":null},"y2":{"field":"y2"},
"stroke":{"field":"s","type":"nominal","legend":null,"scale":{"domain":["sell","buy","faint","select"],"range":["#F23645","#2962FF","#F4F5F8","#E0E3EB"]}}
}
},
{
"data":{"values":[{"a":168.2,"b":170,"p":5567.5,"q":5534.2}]},
"mark":{"type":"rect","fill":"#FFFFFF","stroke":"#D1D4DC","strokeWidth":2.5,"cornerRadius":5},
"encoding":{"x":{"field":"a","type":"quantitative","axis":null},"x2":{"field":"b"},"y":{"field":"p","type":"quantitative","axis":null},"y2":{"field":"q"}}
},
{
"data":{"name":"chevrons"},
"mark":{"type":"line","color":"#131722","strokeWidth":2.5},
"encoding":{
"x":{"field":"i","type":"quantitative","axis":null},
"y":{"field":"p","type":"quantitative","axis":null},
"detail":{"field":"k"},"order":{"field":"n"}
}
},
{
"data":{"values":[{"i":2.85,"p":5548.5}]},
"mark":{"type":"point","filled":true,"size":1075,"color":"#D29A00","opacity":1,"shape":"circle"},
"encoding":{"x":{"field":"i","type":"quantitative","axis":null},"y":{"field":"p","type":"quantitative","axis":null}}
},
{
"data":{"name":"logo"},
"mark":{"type":"point","filled":true,"size":60,"color":"#FFFFFF","opacity":1,"shape":"square"},
"encoding":{
"x":{"field":"i","type":"quantitative","axis":null},
"y":{"field":"p","type":"quantitative","axis":null}
}
},
{
"data":{"values":[{"a":40.85,"b":44.2,"p":5577,"q":5520}]},
"mark":{"type":"rect","color":"#E6E6E6","cornerRadiusTopLeft":18,"cornerRadiusBottomLeft":18},
"encoding":{"x":{"field":"a","type":"quantitative","axis":null},"x2":{"field":"b"},"y":{"field":"p","type":"quantitative","axis":null},"y2":{"field":"q"}}
},
{
"data":{"values":[{"a":44.2,"b":47.6,"p":5577,"q":5520}]},
"mark":{"type":"rect","color":"#FFDDE4","cornerRadiusTopRight":18,"cornerRadiusBottomRight":18},
"encoding":{"x":{"field":"a","type":"quantitative","axis":null},"x2":{"field":"b"},"y":{"field":"p","type":"quantitative","axis":null},"y2":{"field":"q"}}
},
{
"data":{"values":[{"a":42.2,"b":43.3,"p":5548.5}]},
"mark":{"type":"rule","color":"#333333","strokeWidth":9,"strokeCap":"round"},
"encoding":{"x":{"field":"a","type":"quantitative","axis":null},"x2":{"field":"b"},"y":{"field":"p","type":"quantitative","axis":null}}
},
{
"data":{"values":[{"t":"≈","i":45.7,"p":5548.5}]},
"mark":{"type":"text","font":"Inter","fontSize":32,"fontWeight":"bold","color":"#B3174F","align":"center","baseline":"middle"},
"encoding":{"x":{"field":"i","type":"quantitative","axis":null},"y":{"field":"p","type":"quantitative","axis":null},"text":{"field":"t","type":"nominal"}}
},
{
"data":{"values":[{"t":"黄金现货/美元 · 1天 · OANDA","i":5.1,"p":5548.5}]},
"mark":{"type":"text","font":"Inter, Noto Sans CJK SC","fontSize":31,"color":"#131722","align":"left","baseline":"middle"},
"encoding":{"x":{"field":"i","type":"quantitative","axis":null},"y":{"field":"p","type":"quantitative","axis":null},"text":{"field":"t","type":"nominal"}}
},
{
"data":{"name":"labels"},
"mark":{"type":"text","font":"Inter, Noto Sans CJK SC","fontSize":27,"align":"left","baseline":"middle"},
"encoding":{
"x":{"field":"i","type":"quantitative","axis":null},
"y":{"field":"p","type":"quantitative","axis":null},
"text":{"field":"t","type":"nominal"},
"color":{"field":"s","type":"nominal","legend":null,"scale":{"domain":["ink","red","ma2","ma3","ma4","ma5","ma6","vol"],"range":["#131722","#F23645","#4CAF50","#E1A9E8","#52756A","#D8343B","#5E2FD6","#F2545B"]}}
}
},
{
"data":{"name":"small"},
"mark":{"type":"text","font":"Inter","fontSize":22,"color":"#131722","align":"left","baseline":"middle"},
"encoding":{"x":{"field":"i","type":"quantitative","axis":null},"y":{"field":"p","type":"quantitative","axis":null},"text":{"field":"t","type":"nominal"}}
},
{
"data":{"name":"quotes"},
"mark":{"type":"text","font":"Inter","fontSize":25,"fontWeight":600,"align":"center","baseline":"middle"},
"encoding":{
"x":{"field":"i","type":"quantitative","axis":null},
"y":{"field":"p","type":"quantitative","axis":null},
"text":{"field":"t","type":"nominal"},
"color":{"condition":{"test":"datum.s==='sell'","value":"#F23645"},"value":"#2962FF"}
}
},
{
"data":{"name":"captions"},
"mark":{"type":"text","font":"Noto Sans CJK SC","fontSize":20,"align":"center","baseline":"middle"},
"encoding":{
"x":{"field":"i","type":"quantitative","axis":null},
"y":{"field":"p","type":"quantitative","axis":null},
"text":{"field":"t","type":"nominal"},
"color":{"condition":{"test":"datum.s==='sell'","value":"#F23645"},"value":"#6A92FF"}
}
},
{
"data":{"values":[{"t":"↓","i":164.4,"p":5550}]},
"mark":{"type":"text","font":"Inter","fontSize":26,"color":"#C8CAD0","align":"center","baseline":"middle"},
"encoding":{"x":{"field":"i","type":"quantitative","axis":null},"y":{"field":"p","type":"quantitative","axis":null},"text":{"field":"t","type":"nominal"}}
}
],
"resolve":{"scale":{"color":"independent","fill":"independent","stroke":"independent"}}
}
],
"resolve":{"scale":{"y":"independent","color":"independent"},"axis":{"y":"independent"}},
"config":{"view":{"stroke":null}}
}
